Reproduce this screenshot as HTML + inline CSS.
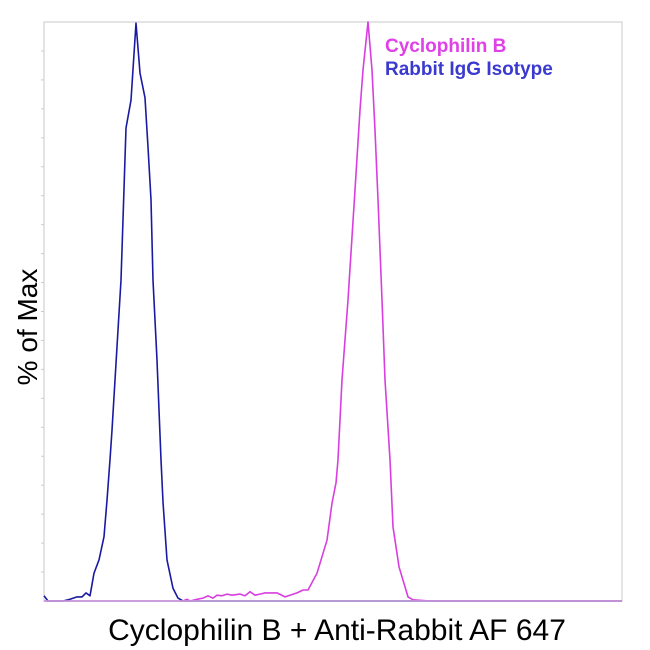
<!DOCTYPE html>
<html><head><meta charset="utf-8"><style>
body{margin:0;background:#fff;}
svg{display:block;font-family:"Liberation Sans",Arial,sans-serif;}
</style></head><body>
<svg id="chart" width="650" height="650" viewBox="0 0 650 650">
<rect x="44" y="22" width="578" height="579" fill="#fff" stroke="#dcdcdc" stroke-width="1.5"/>
<g id="ticks"></g>
<g id="series"></g>
<line x1="44" y1="601" x2="622" y2="601" stroke="#c8a0d8" stroke-width="1.5"/>
<text x="385" y="52" font-size="19" font-weight="bold" fill="#e040e8">Cyclophilin B</text>
<text x="385" y="75" font-size="19" font-weight="bold" fill="#3a3ad0">Rabbit IgG Isotype</text>
<text x="337" y="640" font-size="30" text-anchor="middle" fill="#000">Cyclophilin B + Anti-Rabbit AF 647</text>
<text transform="translate(37,327) rotate(-90)" font-size="28" text-anchor="middle" fill="#000">% of Max</text>
</svg>
<script>
const blueX=[0,4,19,26,33,38,42,46,50,55,60,63,66,68,74,77,82,87,92,96,101,104,107,109,113,117,119,123,129,134,139,578];
const blueY=[0.9,0,0,0.3,0.7,0.7,1.4,0.9,4.8,7.1,11.1,17.4,24.4,29.5,46.8,55.4,81.7,86.5,99.8,91.2,86.9,78.4,69.3,55.4,41.6,24.4,17.1,7.1,2.2,0.5,0,0];
const magX=[0,139,143,146,153,159,164,169,173,178,183,188,196,201,206,211,216,221,233,241,253,259,264,273,283,288,292,294,298,304,311,316,319,324,328,331,334,338,341,346,349,355,364,369,386,578];
const magY=[0,0,0.3,0,0.3,0.5,0.9,0.5,1.0,0.9,1.2,1.0,1.2,0.9,1.6,1.0,1.2,1.4,1.4,0.7,1.4,1.9,1.9,4.8,10.5,16.9,20.4,24.4,38.2,52,71,84.8,91.7,100,91.7,81.3,69.3,52,38.2,24.4,12.8,5.9,0.7,0.2,0,0];
const L=44,R=622,T=22,B=601;
const xs=v=>L+v/578*(R-L);
const ys=v=>B-v/100*(B-T);
const ns="http://www.w3.org/2000/svg";
const tg=document.getElementById('ticks');
for(let i=1;i<20;i++){
  const t=document.createElementNS(ns,'line');
  const y=ys(i*5);
  t.setAttribute('x1',L-3);t.setAttribute('x2',L);t.setAttribute('y1',y);t.setAttribute('y2',y);
  t.setAttribute('stroke','#ccc');t.setAttribute('stroke-width','1');
  
  
  tg.appendChild(t);
}
function draw(X,Y,color,name){
  const p=document.createElementNS(ns,'polyline');
  p.setAttribute('points',X.map((x,i)=>xs(x).toFixed(1)+','+ys(Y[i]).toFixed(1)).join(' '));
  p.setAttribute('fill','none');p.setAttribute('stroke',color);p.setAttribute('stroke-width','1.6');
  p.setAttribute('stroke-linejoin','round');
  
  
  document.getElementById('series').appendChild(p);
}
draw(blueX,blueY,'#1a1aa0','rabbit-igg-isotype-line');
draw(magX,magY,'#d83ee0','cyclophilin-b-line');
</script>
</body></html>
